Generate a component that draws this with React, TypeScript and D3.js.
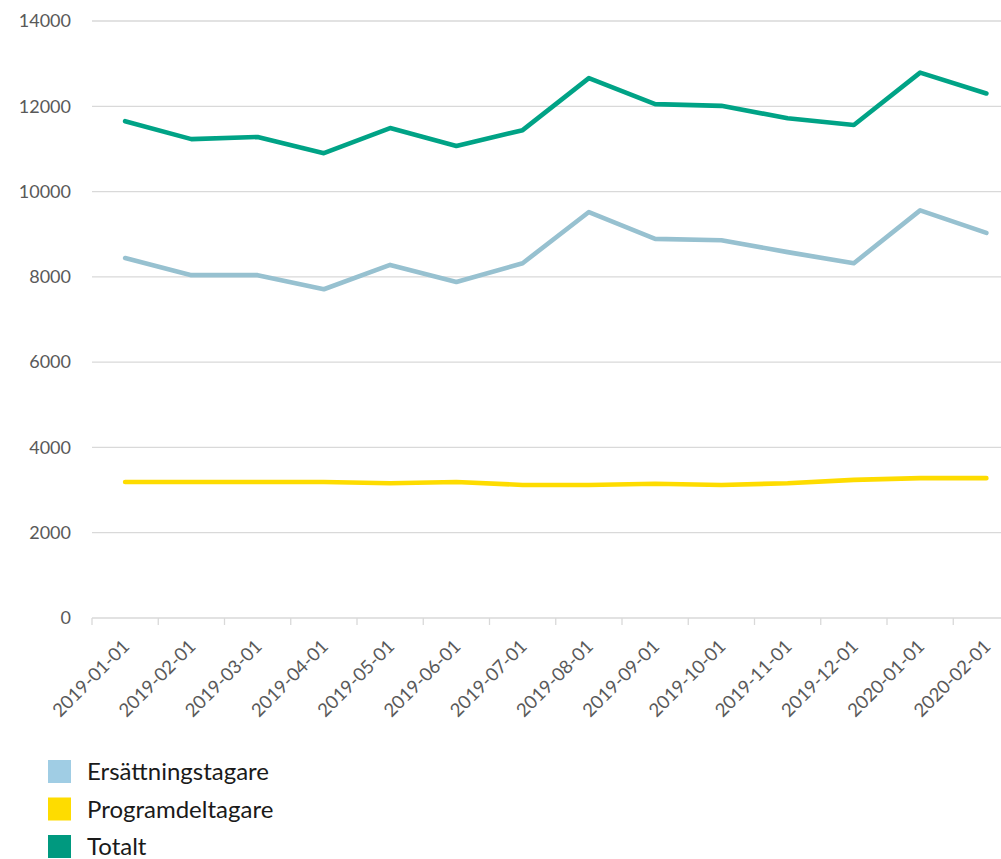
import React from "react";
import * as d3 from "d3";

const months = [
  "2019-01-01", "2019-02-01", "2019-03-01", "2019-04-01", "2019-05-01",
  "2019-06-01", "2019-07-01", "2019-08-01", "2019-09-01", "2019-10-01",
  "2019-11-01", "2019-12-01", "2020-01-01", "2020-02-01",
];

const ersattning = [8440, 8040, 8040, 7710, 8280, 7880, 8320, 9520, 8890, 8860, 8580, 8320, 9560, 9030];
const program = [3190, 3190, 3190, 3190, 3160, 3190, 3120, 3120, 3150, 3120, 3160, 3240, 3280, 3280];
const totalt = [11650, 11230, 11280, 10900, 11490, 11070, 11440, 12660, 12050, 12010, 11720, 11560, 12790, 12300];

const yTicks = [0, 2000, 4000, 6000, 8000, 10000, 12000, 14000];

const series = [
  { name: "Ersättningstagare", values: ersattning, line: "#97c1d0", swatch: "#a0cde4" },
  { name: "Programdeltagare", values: program, line: "#fedc00", swatch: "#fedc00" },
  { name: "Totalt", values: totalt, line: "#00a386", swatch: "#00997f" },
];

const W = 1001;
const H = 859;
const font = "Lato, 'Open Sans', sans-serif";

export default function App() {
  const x = d3.scaleBand().domain(months).range([92, 92 + 66.25 * months.length]);
  const y = d3.scaleLinear().domain([0, 14000]).range([618, 21]);

  const line = d3
    .line<number>()
    .x((d, i) => (x(months[i]) as number) + x.bandwidth() / 2)
    .y((d) => y(d));

  return (
    <svg
      width={W}
      height={H}
      style={{ position: "absolute", left: 0, top: 0, overflow: "hidden", background: "#fff" }}
      fontFamily={font}
    >
      {/* grid */}
      {yTicks.map((t) => (
        <g key={t}>
          <line x1={92} x2={W} y1={y(t)} y2={y(t)} stroke="#d9d9d9" strokeWidth={1.3} />
          <text x={71} y={y(t)} dy="0.35em" textAnchor="end" fontSize={18} fill="#595959">
            {t}
          </text>
        </g>
      ))}

      {/* x ticks and labels */}
      {months.map((m) => {
        const x0 = x(m) as number;
        const cx = x0 + x.bandwidth() / 2;
        return (
          <g key={m}>
            <line x1={x0} x2={x0} y1={618} y2={625} stroke="#d9d9d9" strokeWidth={1.3} />
            <text
              transform={`translate(${cx + 1},${643}) rotate(-45)`}
              textAnchor="end"
              dy="0.35em"
              fontSize={18.5}
              fill="#595959"
            >
              {m}
            </text>
          </g>
        );
      })}

      {/* lines */}
      {series.map((s) => (
        <path
          key={s.name}
          d={line(s.values) || ""}
          fill="none"
          stroke={s.line}
          strokeWidth={4.6}
          strokeLinejoin="round"
          strokeLinecap="round"
        />
      ))}

      {/* legend */}
      {series.map((s, i) => (
        <g key={s.name} transform={`translate(48,${760 + i * 37.5})`}>
          <rect width={23} height={23} fill={s.swatch} />
          <text x={39} y={12} dy="0.35em" fontSize={24} fill="#1a1a1a">
            {s.name}
          </text>
        </g>
      ))}
    </svg>
  );
}
